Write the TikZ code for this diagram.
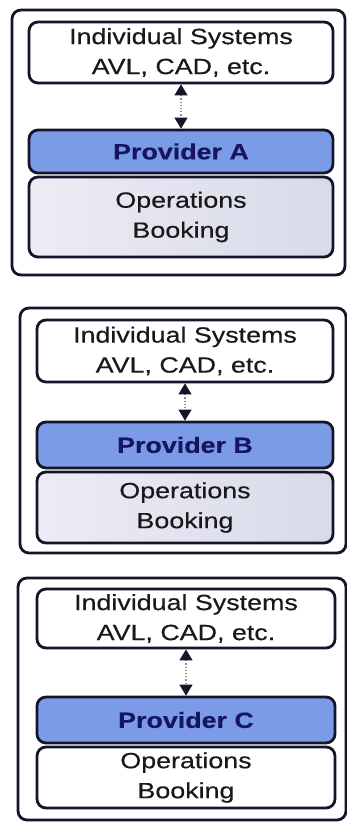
\documentclass[tikz,border=0pt]{standalone}
\usepackage{fontspec}
\setmainfont[FakeStretch=1.22,FakeBold=0.4]{Liberation Sans}
\usetikzlibrary{arrows.meta}
\definecolor{provfill}{HTML}{7B9BE6}
\definecolor{provtext}{HTML}{161660}
\definecolor{edge}{HTML}{15152A}
\definecolor{opsL}{HTML}{ECECF4}
\definecolor{opsR}{HTML}{D8DAE9}
\tikzset{
  panel/.style={draw=edge, line width=2.8pt, rounded corners=9pt, fill=white, inner sep=0pt},
  sysbox/.style={draw=edge, line width=2.8pt, rounded corners=9pt, fill=white, align=center,
    font=\fontsize{22}{30}\selectfont, text=black!90, inner sep=0pt},
  provbox/.style={draw=edge, line width=2.8pt, rounded corners=9pt, fill=provfill, align=center,
    font=\fontsize{22}{26}\selectfont\bfseries, text=provtext, inner sep=0pt},
  opsbox/.style={draw=edge, line width=2.8pt, rounded corners=9pt, left color=opsL, right color=opsR,
    align=center, font=\fontsize{22}{30}\selectfont, text=black!90, inner sep=0pt},
  opswhite/.style={opsbox, left color=white, right color=white},
  link/.style={draw=black!45, dotted, line width=1.2pt,
    {Triangle[width=13pt,length=11pt,fill=edge,color=edge]}-{Triangle[width=13pt,length=11pt,fill=edge,color=edge]}}
}
\begin{document}
\begin{tikzpicture}[x=1pt,y=-1pt]
\useasboundingbox (0,0) rectangle (347,822);
\fill[white] (0,0) rectangle (347,822);
% Panel A
\node[panel, minimum width=333, minimum height=265] (panA) at (178.5,142.5) {};
\node[sysbox, minimum width=304, minimum height=61] (sysA) at (181,52.5) {Individual Systems\\AVL, CAD, etc.};
\node[provbox, minimum width=304, minimum height=43] (provA) at (181,151.5) {Provider A};
\node[opsbox, minimum width=304, minimum height=80] (opsA) at (181,217) {Operations\\Booking};
\draw[link] (sysA.south) -- (provA.north);
% Panel B
\node[panel, minimum width=326, minimum height=245] (panB) at (183,430.5) {};
\node[sysbox, minimum width=296, minimum height=62] (sysB) at (185,351) {Individual Systems\\AVL, CAD, etc.};
\node[provbox, minimum width=296, minimum height=46] (provB) at (185,445) {Provider B};
\node[opsbox, minimum width=296, minimum height=71] (opsB) at (185,507.5) {Operations\\Booking};
\draw[link] (sysB.south) -- (provB.north);
% Panel C
\node[panel, minimum width=328, minimum height=242] (panC) at (182,699) {};
\node[sysbox, minimum width=298, minimum height=59] (sysC) at (186,618.5) {Individual Systems\\AVL, CAD, etc.};
\node[provbox, minimum width=298, minimum height=46] (provC) at (186,720) {Provider C};
\node[opswhite, minimum width=298, minimum height=61] (opsC) at (186,777.5) {Operations\\Booking};
\draw[link] (sysC.south) -- (provC.north);
\end{tikzpicture}
\end{document}
